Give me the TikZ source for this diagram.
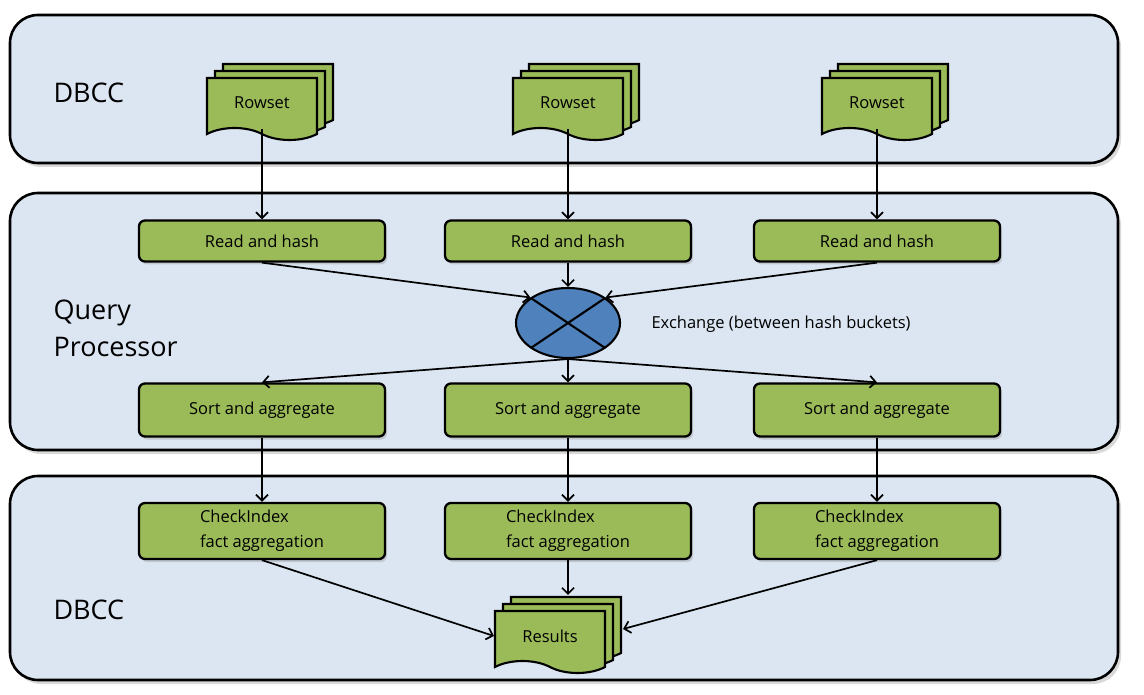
\documentclass[tikz,border=0pt]{standalone}
\usepackage{fontspec}
\setmainfont{Open Sans}
\usetikzlibrary{arrows.meta, shapes.geometric, shapes.symbols, shadows, positioning}

\definecolor{panelblue}{HTML}{DCE6F2}
\definecolor{boxgreen}{HTML}{9BBB59}
\definecolor{xblue}{HTML}{4F81BD}

\tikzset{
  panel/.style={draw=black, line width=2.6pt, fill=panelblue, rounded corners=28pt,
    drop shadow={shadow xshift=3pt, shadow yshift=-4pt, opacity=.3}},
  stepbox/.style={draw=black, line width=2.3pt, fill=boxgreen, rounded corners=6pt,
    minimum width=246pt, font=\fontsize{16.5}{25}\selectfont,
    drop shadow={shadow xshift=2pt, shadow yshift=-3pt, opacity=.3}},
  sheet/.style={fill=boxgreen, draw=black, line width=2.1pt, opacity=1},
  docstack/.style={tape, tape bend top=none, tape bend bottom=out and in, tape bend height=12pt,
    draw=black, line width=2.1pt, fill=boxgreen, minimum width=110pt, minimum height=62pt,
    inner sep=0pt, font=\fontsize{16.5}{20}\selectfont,
    copy shadow={sheet, shadow xshift=16pt, shadow yshift=14pt},
    copy shadow={sheet, shadow xshift=8pt, shadow yshift=7pt}},
  flow/.style={line width=1.7pt, -{Straight Barb[length=6pt,width=12pt,line width=1.7pt]}},
  paneltitle/.style={anchor=west, align=left, font=\fontsize{27}{37}\selectfont}
}

\begin{document}
\begin{tikzpicture}[x=1pt, y=-1pt]
\useasboundingbox (0,0) rectangle (1144,695);

% panels
\draw[panel] (10,15) rectangle (1118,163);
\draw[panel] (10,193) rectangle (1118,450);
\draw[panel] (10,476) rectangle (1118,680);

\node[paneltitle] (dbcctop) at (50,93) {DBCC};
\node[paneltitle] (qp) at (50,328) {Query\\Processor};
\node[paneltitle] (dbccbot) at (50,610) {DBCC};

% rowsets
\node[docstack] (rs1) at (262,103) {Rowset};
\node[docstack] (rs2) at (568,103) {Rowset};
\node[docstack] (rs3) at (877,103) {Rowset};

% read and hash
\node[stepbox, minimum height=41pt] (rh1) at (262,241) {Read and hash};
\node[stepbox, minimum height=41pt] (rh2) at (568,241) {Read and hash};
\node[stepbox, minimum height=41pt] (rh3) at (877,241) {Read and hash};

% exchange
\node[ellipse, draw=black, line width=2.1pt, fill=xblue, minimum width=104pt, minimum height=70pt,
  path picture={\draw[line width=2.1pt] (path picture bounding box.north west) -- (path picture bounding box.south east)
    (path picture bounding box.north east) -- (path picture bounding box.south west);}] (xchg) at (568,323) {};
\node[anchor=west, font=\fontsize{16.5}{20}\selectfont] (xlabel) at (648,324) {Exchange (between hash buckets)};

% sort and aggregate
\node[stepbox, minimum height=53pt] (sa1) at (262,410) {Sort and aggregate};
\node[stepbox, minimum height=53pt] (sa2) at (568,410) {Sort and aggregate};
\node[stepbox, minimum height=53pt] (sa3) at (877,410) {Sort and aggregate};

% checkindex
\node[stepbox, minimum height=56pt, align=left] (ci1) at (262,531) {CheckIndex\\fact aggregation};
\node[stepbox, minimum height=56pt, align=left] (ci2) at (568,531) {CheckIndex\\fact aggregation};
\node[stepbox, minimum height=56pt, align=left] (ci3) at (877,531) {CheckIndex\\fact aggregation};

% results
\node[docstack] (res) at (550,636) {Results};
\coordinate (restop) at ([yshift=15pt]res.north);
\coordinate (resright) at ([xshift=17pt,yshift=7pt]res.east);

% connectors
\draw[flow] (rs1.south) -- (rh1.north);
\draw[flow] (rs2.south) -- (rh2.north);
\draw[flow] (rs3.south) -- (rh3.north);

\draw[flow] (rh1.south) -- (xchg.north west);
\draw[flow] (rh2.south) -- (xchg.north);
\draw[flow] (rh3.south) -- (xchg.north east);

\draw[flow] (xchg.south) -- (sa1.north);
\draw[flow] (xchg.south) -- (sa2.north);
\draw[flow] (xchg.south) -- (sa3.north);

\draw[flow] (sa1.south) -- (ci1.north);
\draw[flow] (sa2.south) -- (ci2.north);
\draw[flow] (sa3.south) -- (ci3.north);

\draw[flow] (ci1.south) -- (res.west);
\draw[flow] (ci2.south) -- (ci2.south |- restop);
\draw[flow] (ci3.south) -- (resright);

\end{tikzpicture}
\end{document}
